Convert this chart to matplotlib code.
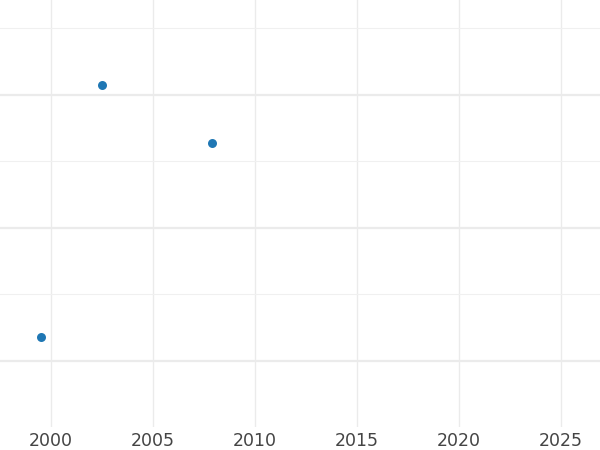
import matplotlib.pyplot as plt
from matplotlib.ticker import MultipleLocator, NullFormatter

# data
years = [1999.5, 2002.5, 2007.9]
values = [0.36, 4.14, 3.27]
x_ticks = [2000, 2005, 2010, 2015, 2020, 2025]

fig = plt.figure(figsize=(6, 4.5), dpi=100)
ax = fig.add_axes([0, 23 / 450, 1, 1 - 23 / 450])

ax.scatter(years, values, s=42, color='#1f77b4', zorder=3, linewidths=0)

ax.set_xlim(1997.5, 2026.9)
ax.set_ylim(-0.99, 5.42)

ax.set_xticks(x_ticks)
ax.set_xticklabels([str(t) for t in x_ticks])
ax.yaxis.set_major_locator(MultipleLocator(2))
ax.yaxis.set_minor_locator(MultipleLocator(1, offset=1))
ax.yaxis.set_major_formatter(NullFormatter())

ax.grid(axis='x', color='#ebebeb', lw=1.0)
ax.grid(axis='y', which='major', color='#ebebeb', lw=1.6)
ax.grid(axis='y', which='minor', color='#f0f0f0', lw=0.8)

ax.tick_params(axis='both', which='both', length=0)
ax.tick_params(axis='x', labelsize=12.5, labelcolor='#444444', pad=3.5)
ax.tick_params(axis='y', labelleft=False)

for sp in ax.spines.values():
    sp.set_visible(False)

fig.savefig('out.png', dpi=100)
